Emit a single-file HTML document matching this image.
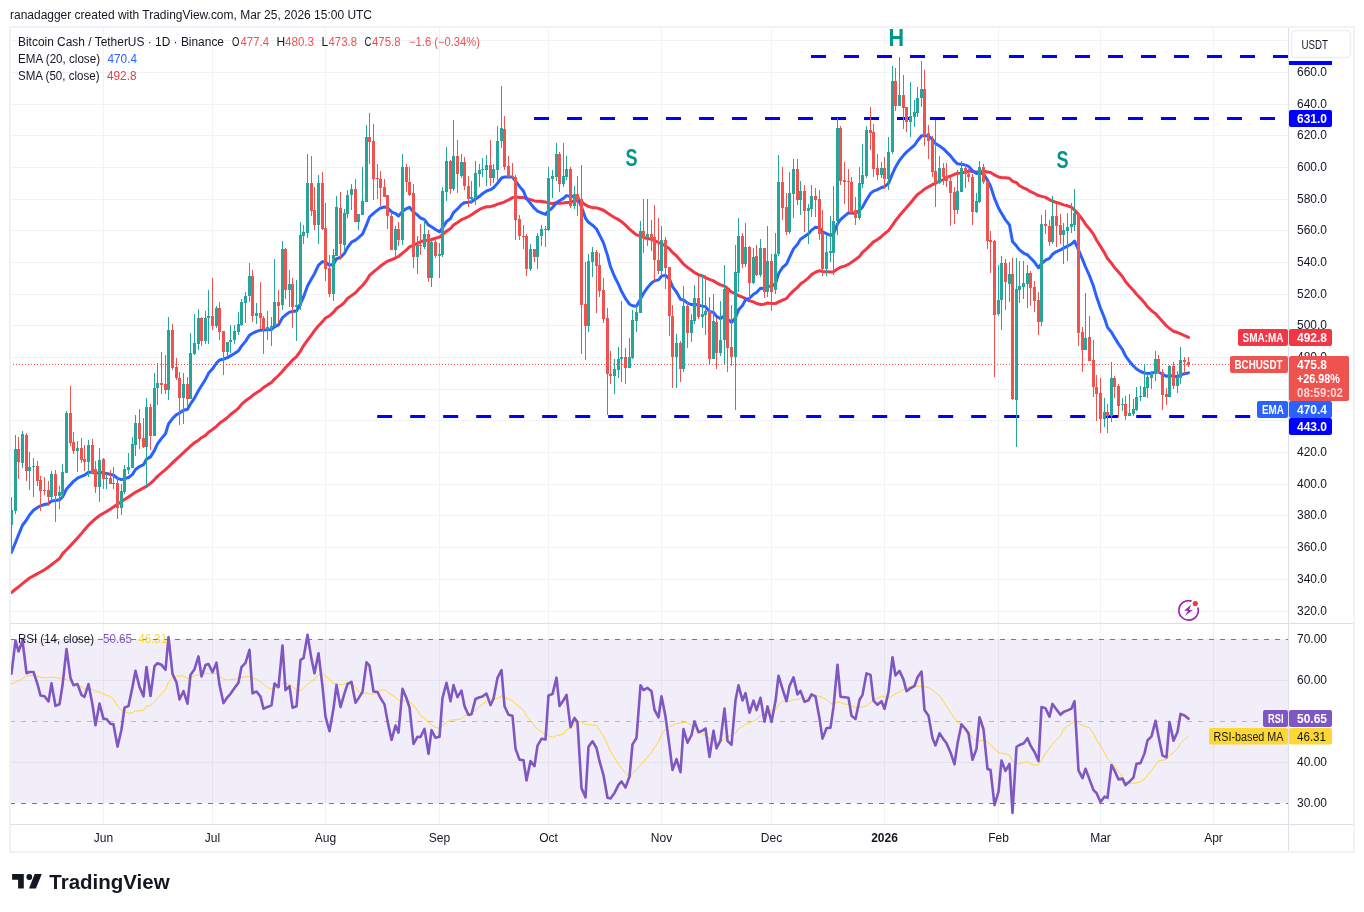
<!DOCTYPE html><html><head><meta charset="utf-8"><title>BCHUSDT</title><style>html,body{margin:0;padding:0;background:#fff}body{width:1364px;height:912px;position:relative;overflow:hidden;font-family:"Liberation Sans",sans-serif}</style></head><body><svg width="1364" height="912" viewBox="0 0 1364 912" style="position:absolute;left:0;top:0;will-change:transform">
<rect width="1364" height="912" fill="#fff"/>
<g fill="#f1f2f5" shape-rendering="crispEdges">
<rect x="103" y="28" width="1" height="595"/>
<rect x="212" y="28" width="1" height="595"/>
<rect x="325" y="28" width="1" height="595"/>
<rect x="439" y="28" width="1" height="595"/>
<rect x="548" y="28" width="1" height="595"/>
<rect x="661" y="28" width="1" height="595"/>
<rect x="771" y="28" width="1" height="595"/>
<rect x="884" y="28" width="1" height="595"/>
<rect x="998" y="28" width="1" height="595"/>
<rect x="1100" y="28" width="1" height="595"/>
<rect x="1213" y="28" width="1" height="595"/>
</g>
<g fill="#f1f2f5" shape-rendering="crispEdges">
<rect x="103" y="624" width="1" height="200"/>
<rect x="212" y="624" width="1" height="200"/>
<rect x="325" y="624" width="1" height="200"/>
<rect x="439" y="624" width="1" height="200"/>
<rect x="548" y="624" width="1" height="200"/>
<rect x="661" y="624" width="1" height="200"/>
<rect x="771" y="624" width="1" height="200"/>
<rect x="884" y="624" width="1" height="200"/>
<rect x="998" y="624" width="1" height="200"/>
<rect x="1100" y="624" width="1" height="200"/>
<rect x="1213" y="624" width="1" height="200"/>
</g>
<g fill="#f1f2f5" shape-rendering="crispEdges">
<rect x="11" y="611" width="1277" height="1"/>
<rect x="11" y="579" width="1277" height="1"/>
<rect x="11" y="547" width="1277" height="1"/>
<rect x="11" y="515" width="1277" height="1"/>
<rect x="11" y="484" width="1277" height="1"/>
<rect x="11" y="452" width="1277" height="1"/>
<rect x="11" y="420" width="1277" height="1"/>
<rect x="11" y="389" width="1277" height="1"/>
<rect x="11" y="357" width="1277" height="1"/>
<rect x="11" y="325" width="1277" height="1"/>
<rect x="11" y="294" width="1277" height="1"/>
<rect x="11" y="262" width="1277" height="1"/>
<rect x="11" y="230" width="1277" height="1"/>
<rect x="11" y="199" width="1277" height="1"/>
<rect x="11" y="167" width="1277" height="1"/>
<rect x="11" y="135" width="1277" height="1"/>
<rect x="11" y="104" width="1277" height="1"/>
<rect x="11" y="72" width="1277" height="1"/>
<rect x="11" y="40" width="1277" height="1"/>
</g>
<g fill="#f1f2f5" shape-rendering="crispEdges">
<rect x="11" y="762" width="1277" height="1"/>
<rect x="11" y="680" width="1277" height="1"/>
</g>
<rect x="11" y="639" width="1277" height="164" fill="rgba(126,87,194,0.1)"/>
<line x1="10" x2="1288" y1="639.5" y2="639.5" stroke="#787b86" stroke-width="1" stroke-dasharray="5 6" shape-rendering="crispEdges"/>
<line x1="10" x2="1288" y1="721.5" y2="721.5" stroke="#b6b8c0" stroke-width="1" stroke-dasharray="5 6" shape-rendering="crispEdges"/>
<line x1="10" x2="1288" y1="803.5" y2="803.5" stroke="#787b86" stroke-width="1" stroke-dasharray="5 6" shape-rendering="crispEdges"/>
<clipPath id="cp"><rect x="11" y="28" width="1277" height="595"/></clipPath>
<clipPath id="cr"><rect x="11" y="624" width="1277" height="200"/></clipPath>
<g fill="#0000ff" clip-path="url(#cp)">
<rect x="811.0" y="55.0" width="15.0" height="3"/><rect x="844.0" y="55.0" width="15.0" height="3"/><rect x="877.0" y="55.0" width="15.0" height="3"/><rect x="910.0" y="55.0" width="15.0" height="3"/><rect x="943.0" y="55.0" width="15.0" height="3"/><rect x="976.0" y="55.0" width="15.0" height="3"/><rect x="1009.0" y="55.0" width="15.0" height="3"/><rect x="1042.0" y="55.0" width="15.0" height="3"/><rect x="1075.0" y="55.0" width="15.0" height="3"/><rect x="1108.0" y="55.0" width="15.0" height="3"/><rect x="1141.0" y="55.0" width="15.0" height="3"/><rect x="1174.0" y="55.0" width="15.0" height="3"/><rect x="1207.0" y="55.0" width="15.0" height="3"/><rect x="1240.0" y="55.0" width="15.0" height="3"/><rect x="1273.0" y="55.0" width="15.0" height="3"/>
<rect x="534.0" y="117.0" width="15.0" height="3"/><rect x="567.0" y="117.0" width="15.0" height="3"/><rect x="600.0" y="117.0" width="15.0" height="3"/><rect x="633.0" y="117.0" width="15.0" height="3"/><rect x="666.0" y="117.0" width="15.0" height="3"/><rect x="699.0" y="117.0" width="15.0" height="3"/><rect x="732.0" y="117.0" width="15.0" height="3"/><rect x="765.0" y="117.0" width="15.0" height="3"/><rect x="798.0" y="117.0" width="15.0" height="3"/><rect x="831.0" y="117.0" width="15.0" height="3"/><rect x="864.0" y="117.0" width="15.0" height="3"/><rect x="897.0" y="117.0" width="15.0" height="3"/><rect x="930.0" y="117.0" width="15.0" height="3"/><rect x="963.0" y="117.0" width="15.0" height="3"/><rect x="996.0" y="117.0" width="15.0" height="3"/><rect x="1029.0" y="117.0" width="15.0" height="3"/><rect x="1062.0" y="117.0" width="15.0" height="3"/><rect x="1095.0" y="117.0" width="15.0" height="3"/><rect x="1128.0" y="117.0" width="15.0" height="3"/><rect x="1161.0" y="117.0" width="15.0" height="3"/><rect x="1194.0" y="117.0" width="15.0" height="3"/><rect x="1227.0" y="117.0" width="15.0" height="3"/><rect x="1260.0" y="117.0" width="15.0" height="3"/>
<rect x="377.2" y="415.0" width="15.0" height="3"/><rect x="410.2" y="415.0" width="15.0" height="3"/><rect x="443.2" y="415.0" width="15.0" height="3"/><rect x="476.2" y="415.0" width="15.0" height="3"/><rect x="509.2" y="415.0" width="15.0" height="3"/><rect x="542.2" y="415.0" width="15.0" height="3"/><rect x="575.2" y="415.0" width="15.0" height="3"/><rect x="608.2" y="415.0" width="15.0" height="3"/><rect x="641.2" y="415.0" width="15.0" height="3"/><rect x="674.2" y="415.0" width="15.0" height="3"/><rect x="707.2" y="415.0" width="15.0" height="3"/><rect x="740.2" y="415.0" width="15.0" height="3"/><rect x="773.2" y="415.0" width="15.0" height="3"/><rect x="806.2" y="415.0" width="15.0" height="3"/><rect x="839.2" y="415.0" width="15.0" height="3"/><rect x="872.2" y="415.0" width="15.0" height="3"/><rect x="905.2" y="415.0" width="15.0" height="3"/><rect x="938.2" y="415.0" width="15.0" height="3"/><rect x="971.2" y="415.0" width="15.0" height="3"/><rect x="1004.2" y="415.0" width="15.0" height="3"/><rect x="1037.2" y="415.0" width="15.0" height="3"/><rect x="1070.2" y="415.0" width="15.0" height="3"/><rect x="1103.2" y="415.0" width="15.0" height="3"/><rect x="1136.2" y="415.0" width="15.0" height="3"/><rect x="1169.2" y="415.0" width="15.0" height="3"/><rect x="1202.2" y="415.0" width="15.0" height="3"/><rect x="1235.2" y="415.0" width="15.0" height="3"/><rect x="1268.2" y="415.0" width="15.0" height="3"/>
</g>
<g fill="#ef5350" shape-rendering="crispEdges">
<path d="M10 364h1v1h-1zM13 364h1v1h-1zM16 364h1v1h-1zM19 364h1v1h-1zM22 364h1v1h-1zM25 364h1v1h-1zM28 364h1v1h-1zM31 364h1v1h-1zM34 364h1v1h-1zM37 364h1v1h-1zM40 364h1v1h-1zM43 364h1v1h-1zM46 364h1v1h-1zM49 364h1v1h-1zM52 364h1v1h-1zM55 364h1v1h-1zM58 364h1v1h-1zM61 364h1v1h-1zM64 364h1v1h-1zM67 364h1v1h-1zM70 364h1v1h-1zM73 364h1v1h-1zM76 364h1v1h-1zM79 364h1v1h-1zM82 364h1v1h-1zM85 364h1v1h-1zM88 364h1v1h-1zM91 364h1v1h-1zM94 364h1v1h-1zM97 364h1v1h-1zM100 364h1v1h-1zM103 364h1v1h-1zM106 364h1v1h-1zM109 364h1v1h-1zM112 364h1v1h-1zM115 364h1v1h-1zM118 364h1v1h-1zM121 364h1v1h-1zM124 364h1v1h-1zM127 364h1v1h-1zM130 364h1v1h-1zM133 364h1v1h-1zM136 364h1v1h-1zM139 364h1v1h-1zM142 364h1v1h-1zM145 364h1v1h-1zM148 364h1v1h-1zM151 364h1v1h-1zM154 364h1v1h-1zM157 364h1v1h-1zM160 364h1v1h-1zM163 364h1v1h-1zM166 364h1v1h-1zM169 364h1v1h-1zM172 364h1v1h-1zM175 364h1v1h-1zM178 364h1v1h-1zM181 364h1v1h-1zM184 364h1v1h-1zM187 364h1v1h-1zM190 364h1v1h-1zM193 364h1v1h-1zM196 364h1v1h-1zM199 364h1v1h-1zM202 364h1v1h-1zM205 364h1v1h-1zM208 364h1v1h-1zM211 364h1v1h-1zM214 364h1v1h-1zM217 364h1v1h-1zM220 364h1v1h-1zM223 364h1v1h-1zM226 364h1v1h-1zM229 364h1v1h-1zM232 364h1v1h-1zM235 364h1v1h-1zM238 364h1v1h-1zM241 364h1v1h-1zM244 364h1v1h-1zM247 364h1v1h-1zM250 364h1v1h-1zM253 364h1v1h-1zM256 364h1v1h-1zM259 364h1v1h-1zM262 364h1v1h-1zM265 364h1v1h-1zM268 364h1v1h-1zM271 364h1v1h-1zM274 364h1v1h-1zM277 364h1v1h-1zM280 364h1v1h-1zM283 364h1v1h-1zM286 364h1v1h-1zM289 364h1v1h-1zM292 364h1v1h-1zM295 364h1v1h-1zM298 364h1v1h-1zM301 364h1v1h-1zM304 364h1v1h-1zM307 364h1v1h-1zM310 364h1v1h-1zM313 364h1v1h-1zM316 364h1v1h-1zM319 364h1v1h-1zM322 364h1v1h-1zM325 364h1v1h-1zM328 364h1v1h-1zM331 364h1v1h-1zM334 364h1v1h-1zM337 364h1v1h-1zM340 364h1v1h-1zM343 364h1v1h-1zM346 364h1v1h-1zM349 364h1v1h-1zM352 364h1v1h-1zM355 364h1v1h-1zM358 364h1v1h-1zM361 364h1v1h-1zM364 364h1v1h-1zM367 364h1v1h-1zM370 364h1v1h-1zM373 364h1v1h-1zM376 364h1v1h-1zM379 364h1v1h-1zM382 364h1v1h-1zM385 364h1v1h-1zM388 364h1v1h-1zM391 364h1v1h-1zM394 364h1v1h-1zM397 364h1v1h-1zM400 364h1v1h-1zM403 364h1v1h-1zM406 364h1v1h-1zM409 364h1v1h-1zM412 364h1v1h-1zM415 364h1v1h-1zM418 364h1v1h-1zM421 364h1v1h-1zM424 364h1v1h-1zM427 364h1v1h-1zM430 364h1v1h-1zM433 364h1v1h-1zM436 364h1v1h-1zM439 364h1v1h-1zM442 364h1v1h-1zM445 364h1v1h-1zM448 364h1v1h-1zM451 364h1v1h-1zM454 364h1v1h-1zM457 364h1v1h-1zM460 364h1v1h-1zM463 364h1v1h-1zM466 364h1v1h-1zM469 364h1v1h-1zM472 364h1v1h-1zM475 364h1v1h-1zM478 364h1v1h-1zM481 364h1v1h-1zM484 364h1v1h-1zM487 364h1v1h-1zM490 364h1v1h-1zM493 364h1v1h-1zM496 364h1v1h-1zM499 364h1v1h-1zM502 364h1v1h-1zM505 364h1v1h-1zM508 364h1v1h-1zM511 364h1v1h-1zM514 364h1v1h-1zM517 364h1v1h-1zM520 364h1v1h-1zM523 364h1v1h-1zM526 364h1v1h-1zM529 364h1v1h-1zM532 364h1v1h-1zM535 364h1v1h-1zM538 364h1v1h-1zM541 364h1v1h-1zM544 364h1v1h-1zM547 364h1v1h-1zM550 364h1v1h-1zM553 364h1v1h-1zM556 364h1v1h-1zM559 364h1v1h-1zM562 364h1v1h-1zM565 364h1v1h-1zM568 364h1v1h-1zM571 364h1v1h-1zM574 364h1v1h-1zM577 364h1v1h-1zM580 364h1v1h-1zM583 364h1v1h-1zM586 364h1v1h-1zM589 364h1v1h-1zM592 364h1v1h-1zM595 364h1v1h-1zM598 364h1v1h-1zM601 364h1v1h-1zM604 364h1v1h-1zM607 364h1v1h-1zM610 364h1v1h-1zM613 364h1v1h-1zM616 364h1v1h-1zM619 364h1v1h-1zM622 364h1v1h-1zM625 364h1v1h-1zM628 364h1v1h-1zM631 364h1v1h-1zM634 364h1v1h-1zM637 364h1v1h-1zM640 364h1v1h-1zM643 364h1v1h-1zM646 364h1v1h-1zM649 364h1v1h-1zM652 364h1v1h-1zM655 364h1v1h-1zM658 364h1v1h-1zM661 364h1v1h-1zM664 364h1v1h-1zM667 364h1v1h-1zM670 364h1v1h-1zM673 364h1v1h-1zM676 364h1v1h-1zM679 364h1v1h-1zM682 364h1v1h-1zM685 364h1v1h-1zM688 364h1v1h-1zM691 364h1v1h-1zM694 364h1v1h-1zM697 364h1v1h-1zM700 364h1v1h-1zM703 364h1v1h-1zM706 364h1v1h-1zM709 364h1v1h-1zM712 364h1v1h-1zM715 364h1v1h-1zM718 364h1v1h-1zM721 364h1v1h-1zM724 364h1v1h-1zM727 364h1v1h-1zM730 364h1v1h-1zM733 364h1v1h-1zM736 364h1v1h-1zM739 364h1v1h-1zM742 364h1v1h-1zM745 364h1v1h-1zM748 364h1v1h-1zM751 364h1v1h-1zM754 364h1v1h-1zM757 364h1v1h-1zM760 364h1v1h-1zM763 364h1v1h-1zM766 364h1v1h-1zM769 364h1v1h-1zM772 364h1v1h-1zM775 364h1v1h-1zM778 364h1v1h-1zM781 364h1v1h-1zM784 364h1v1h-1zM787 364h1v1h-1zM790 364h1v1h-1zM793 364h1v1h-1zM796 364h1v1h-1zM799 364h1v1h-1zM802 364h1v1h-1zM805 364h1v1h-1zM808 364h1v1h-1zM811 364h1v1h-1zM814 364h1v1h-1zM817 364h1v1h-1zM820 364h1v1h-1zM823 364h1v1h-1zM826 364h1v1h-1zM829 364h1v1h-1zM832 364h1v1h-1zM835 364h1v1h-1zM838 364h1v1h-1zM841 364h1v1h-1zM844 364h1v1h-1zM847 364h1v1h-1zM850 364h1v1h-1zM853 364h1v1h-1zM856 364h1v1h-1zM859 364h1v1h-1zM862 364h1v1h-1zM865 364h1v1h-1zM868 364h1v1h-1zM871 364h1v1h-1zM874 364h1v1h-1zM877 364h1v1h-1zM880 364h1v1h-1zM883 364h1v1h-1zM886 364h1v1h-1zM889 364h1v1h-1zM892 364h1v1h-1zM895 364h1v1h-1zM898 364h1v1h-1zM901 364h1v1h-1zM904 364h1v1h-1zM907 364h1v1h-1zM910 364h1v1h-1zM913 364h1v1h-1zM916 364h1v1h-1zM919 364h1v1h-1zM922 364h1v1h-1zM925 364h1v1h-1zM928 364h1v1h-1zM931 364h1v1h-1zM934 364h1v1h-1zM937 364h1v1h-1zM940 364h1v1h-1zM943 364h1v1h-1zM946 364h1v1h-1zM949 364h1v1h-1zM952 364h1v1h-1zM955 364h1v1h-1zM958 364h1v1h-1zM961 364h1v1h-1zM964 364h1v1h-1zM967 364h1v1h-1zM970 364h1v1h-1zM973 364h1v1h-1zM976 364h1v1h-1zM979 364h1v1h-1zM982 364h1v1h-1zM985 364h1v1h-1zM988 364h1v1h-1zM991 364h1v1h-1zM994 364h1v1h-1zM997 364h1v1h-1zM1000 364h1v1h-1zM1003 364h1v1h-1zM1006 364h1v1h-1zM1009 364h1v1h-1zM1012 364h1v1h-1zM1015 364h1v1h-1zM1018 364h1v1h-1zM1021 364h1v1h-1zM1024 364h1v1h-1zM1027 364h1v1h-1zM1030 364h1v1h-1zM1033 364h1v1h-1zM1036 364h1v1h-1zM1039 364h1v1h-1zM1042 364h1v1h-1zM1045 364h1v1h-1zM1048 364h1v1h-1zM1051 364h1v1h-1zM1054 364h1v1h-1zM1057 364h1v1h-1zM1060 364h1v1h-1zM1063 364h1v1h-1zM1066 364h1v1h-1zM1069 364h1v1h-1zM1072 364h1v1h-1zM1075 364h1v1h-1zM1078 364h1v1h-1zM1081 364h1v1h-1zM1084 364h1v1h-1zM1087 364h1v1h-1zM1090 364h1v1h-1zM1093 364h1v1h-1zM1096 364h1v1h-1zM1099 364h1v1h-1zM1102 364h1v1h-1zM1105 364h1v1h-1zM1108 364h1v1h-1zM1111 364h1v1h-1zM1114 364h1v1h-1zM1117 364h1v1h-1zM1120 364h1v1h-1zM1123 364h1v1h-1zM1126 364h1v1h-1zM1129 364h1v1h-1zM1132 364h1v1h-1zM1135 364h1v1h-1zM1138 364h1v1h-1zM1141 364h1v1h-1zM1144 364h1v1h-1zM1147 364h1v1h-1zM1150 364h1v1h-1zM1153 364h1v1h-1zM1156 364h1v1h-1zM1159 364h1v1h-1zM1162 364h1v1h-1zM1165 364h1v1h-1zM1168 364h1v1h-1zM1171 364h1v1h-1zM1174 364h1v1h-1zM1177 364h1v1h-1zM1180 364h1v1h-1zM1183 364h1v1h-1zM1186 364h1v1h-1zM1189 364h1v1h-1zM1192 364h1v1h-1zM1195 364h1v1h-1zM1198 364h1v1h-1zM1201 364h1v1h-1zM1204 364h1v1h-1zM1207 364h1v1h-1zM1210 364h1v1h-1zM1213 364h1v1h-1zM1216 364h1v1h-1zM1219 364h1v1h-1zM1222 364h1v1h-1zM1225 364h1v1h-1zM1228 364h1v1h-1z"/>
</g>
<g clip-path="url(#cp)" fill="none" stroke-linejoin="round" stroke-linecap="round">
<path d="M10 592.8L11.5 592.46L15.5 589.23L18.5 586.82L22.5 583.6L26.5 580.37L29.5 578.04L33.5 575.85L37.5 573.65L40.5 572.01L44.5 569.82L48.5 567.06L51.5 564.74L55.5 561.63L59.5 558.53L62.5 553.87L66.5 549.74L70.5 545.61L73.5 542.36L77.5 537.98L81.5 533.38L84.5 529.77L88.5 525.16L92.5 521.47L95.5 518.71L99.5 515.57L103.5 513.26L106.5 511.53L110.5 508.98L113.5 506.96L117.5 504.27L121.5 501.61L124.5 499.62L128.5 496.96L132.5 494.26L135.5 492.28L139.5 490.11L143.5 487.94L146.5 486.32L150.5 483.35L154.5 479.55L157.5 476.37L161.5 472.88L165.5 469.7L168.5 466.79L172.5 462.91L176.5 459.07L179.5 456.31L183.5 452.63L187.5 448.96L190.5 446.08L194.5 442.75L198.5 440.13L201.5 437.7L205.5 435.38L208.5 432.3L212.5 429.47L216.5 426.31L219.5 423.33L223.5 420.55L227.5 417.57L230.5 414.42L234.5 411.58L238.5 408.14L241.5 404.34L245.5 400.81L249.5 398.08L252.5 395.54L256.5 392.79L260.5 390.2L263.5 387.59L267.5 384.89L271.5 382.52L274.5 379.11L278.5 375.49L282.5 371.27L285.5 367.5L289.5 363.63L292.5 360.09L296.5 356.51L300.5 351.05L303.5 345.87L307.5 340.15L311.5 335.02L314.5 330.63L318.5 325.82L322.5 321.62L325.5 318.06L329.5 315.79L333.5 312.19L336.5 308.56L340.5 305.77L344.5 302.33L347.5 298.44L351.5 295.62L355.5 292.69L358.5 289.43L362.5 285.49L366.5 280.55L369.5 275.4L373.5 271.92L377.5 268.64L380.5 266.03L384.5 263.16L387.5 261.13L391.5 259.79L395.5 257.86L398.5 256.5L402.5 253.21L406.5 249.82L409.5 246.87L413.5 245.21L417.5 243.48L420.5 241.91L424.5 240.54L428.5 240.18L431.5 239.5L435.5 238.31L439.5 237.12L442.5 234.58L446.5 231.21L450.5 228.44L453.5 225.04L457.5 222.48L461.5 219.61L464.5 218.35L468.5 216.51L471.5 214.77L475.5 212.1L479.5 209.4L482.5 208.07L486.5 206.73L490.5 206.63L493.5 205.8L497.5 204.12L501.5 203.03L504.5 201.79L508.5 199.96L512.5 197.65L515.5 196.94L519.5 197.53L523.5 197.39L526.5 198.51L530.5 199.58L534.5 200.94L537.5 201.22L541.5 201.51L545.5 202.1L548.5 202.92L552.5 203.61L556.5 203.11L559.5 203.2L563.5 202.96L566.5 202.4L570.5 202.18L574.5 201.07L577.5 200.48L581.5 201.78L585.5 204.95L588.5 206.53L592.5 207.67L596.5 207.85L599.5 208.77L603.5 210.23L607.5 213.02L610.5 214.97L614.5 217.52L618.5 219.58L621.5 221.64L625.5 225.18L629.5 229.11L632.5 231.73L636.5 234.85L640.5 235.98L643.5 237.5L647.5 238.46L651.5 239.26L654.5 240.52L658.5 242.48L661.5 243.88L665.5 245.86L669.5 248.88L672.5 252.48L676.5 255.96L680.5 260.52L683.5 264.08L687.5 267.4L691.5 270.25L694.5 272.65L698.5 274.59L702.5 276.16L705.5 277.63L709.5 279.43L713.5 280.87L716.5 282.8L720.5 284.88L724.5 286.08L727.5 288.43L731.5 292.02L735.5 293.93L738.5 295.57L742.5 297.17L745.5 298.59L749.5 300.86L753.5 301.88L756.5 303.49L760.5 304.46L764.5 304.21L767.5 302.91L771.5 303.53L775.5 303.57L778.5 301.91L782.5 300.25L786.5 298.5L789.5 294.88L793.5 290.75L797.5 287.38L800.5 284.01L804.5 281.09L808.5 277.88L811.5 274.65L815.5 272.25L819.5 270.68L822.5 271.44L826.5 271.71L830.5 272.06L833.5 271.7L837.5 269.05L840.5 267.24L844.5 266.08L848.5 264.38L851.5 262.31L855.5 259.52L859.5 256.32L862.5 252.44L866.5 248.92L870.5 244.92L873.5 241.9L877.5 239.44L881.5 236.47L884.5 233.76L888.5 230.58L892.5 225.03L895.5 220.73L899.5 215.57L903.5 210.92L906.5 207.58L910.5 202.94L914.5 198.05L917.5 194.57L921.5 191.63L924.5 189.03L928.5 186.91L932.5 184.68L935.5 183.2L939.5 181.07L943.5 179.65L946.5 177.43L950.5 176.06L954.5 174.42L957.5 173.16L961.5 172.88L965.5 172.2L968.5 171.12L972.5 171.5L976.5 172.14L979.5 171.48L983.5 171.3L987.5 171.9L990.5 172.58L994.5 174.96L998.5 176.97L1001.5 177.56L1005.5 177.83L1009.5 178.28L1012.5 181.23L1016.5 182.6L1019.5 185.76L1023.5 187.8L1027.5 189.62L1030.5 191.73L1034.5 193.48L1038.5 195.56L1041.5 196.38L1045.5 197.4L1049.5 199.63L1052.5 201.3L1056.5 202.44L1060.5 203.63L1063.5 204.87L1067.5 205.83L1071.5 207.28L1074.5 209.91L1078.5 214.45L1082.5 219.55L1085.5 224.14L1089.5 228.93L1093.5 234.35L1096.5 239.98L1100.5 246.39L1104.5 252.85L1107.5 258.48L1111.5 263.23L1114.5 267.53L1118.5 271.99L1122.5 276.71L1125.5 281.51L1129.5 286.15L1133.5 290.48L1136.5 294.23L1140.5 298.33L1144.5 302.71L1147.5 306.77L1151.5 310.67L1155.5 313.61L1158.5 317.04L1162.5 321.59L1166.5 325.89L1169.5 328.4L1173.5 331.28L1177.5 332.54L1180.5 333.73L1184.5 335.71L1188.5 337.36" stroke="#f23645" stroke-width="3"/>
<path d="M10 553.5L11.5 552.3L15.5 542.46L18.5 534.85L22.5 525.22L26.5 520.02L29.5 514.97L33.5 510.3L37.5 507.48L40.5 505.89L44.5 504.49L48.5 503.79L51.5 500.9L55.5 500.46L59.5 499.71L62.5 497.08L66.5 489.04L70.5 484.62L73.5 481.39L77.5 478.22L81.5 476.47L84.5 475.1L88.5 472.21L92.5 472.25L95.5 473.65L99.5 472.34L103.5 472.98L106.5 473.43L110.5 474.39L113.5 475.3L117.5 478.42L121.5 479.64L124.5 478.6L128.5 477.51L132.5 474.34L135.5 469.46L139.5 466.54L143.5 464.66L146.5 459.15L150.5 456.9L154.5 450.35L157.5 443.97L161.5 438.36L165.5 433.74L168.5 423.88L172.5 418.53L176.5 414.62L179.5 413.02L183.5 410.27L187.5 409.24L190.5 403.88L194.5 398.1L198.5 390.48L201.5 385.76L205.5 379.32L208.5 373.32L212.5 368.79L216.5 362.99L219.5 360.0L223.5 359.22L227.5 357.62L230.5 355.89L234.5 353.56L238.5 350.77L241.5 346.16L245.5 341.37L249.5 335.16L252.5 333.29L256.5 331.39L260.5 330.15L263.5 330.08L267.5 329.81L271.5 329.45L274.5 326.86L278.5 324.85L282.5 317.62L285.5 315.03L289.5 312.11L292.5 311.58L296.5 310.95L300.5 303.72L303.5 296.91L307.5 286.03L311.5 278.85L314.5 273.72L318.5 265.05L322.5 261.59L325.5 262.26L329.5 265.24L333.5 264.28L336.5 258.79L340.5 257.4L344.5 253.18L347.5 247.65L351.5 242.07L355.5 240.12L358.5 237.66L362.5 234.17L366.5 224.92L369.5 217.0L373.5 213.37L377.5 210.13L380.5 208.01L384.5 206.97L387.5 207.88L391.5 211.87L395.5 213.52L398.5 216.02L402.5 211.37L406.5 208.57L409.5 207.26L413.5 211.96L417.5 215.09L420.5 218.02L424.5 219.55L428.5 225.11L431.5 226.73L435.5 229.49L439.5 231.82L442.5 227.95L446.5 221.59L450.5 218.46L453.5 212.53L457.5 208.89L461.5 204.43L464.5 202.66L468.5 202.29L471.5 201.79L475.5 199.04L479.5 196.29L482.5 193.66L486.5 190.95L490.5 189.68L493.5 187.71L497.5 183.26L501.5 178.01L504.5 176.96L508.5 176.97L512.5 177.07L515.5 181.12L519.5 186.38L523.5 191.21L526.5 198.61L530.5 203.41L534.5 208.47L537.5 211.07L541.5 212.78L545.5 214.46L548.5 210.98L552.5 207.67L556.5 202.54L559.5 200.77L563.5 198.4L566.5 195.6L570.5 196.55L574.5 196.34L577.5 196.65L581.5 206.94L585.5 218.25L588.5 222.33L592.5 225.16L596.5 229.0L599.5 234.87L603.5 242.87L607.5 255.34L610.5 266.79L614.5 276.54L618.5 284.41L621.5 291.28L625.5 298.63L629.5 304.22L632.5 305.74L636.5 306.31L640.5 299.13L643.5 293.31L647.5 287.64L651.5 282.99L654.5 280.85L658.5 279.9L661.5 276.1L665.5 275.28L669.5 279.21L672.5 286.65L676.5 292.03L680.5 299.35L683.5 299.98L687.5 303.13L691.5 304.73L694.5 304.08L698.5 305.28L702.5 306.16L705.5 306.6L709.5 311.57L713.5 312.46L716.5 316.34L720.5 318.59L724.5 315.77L727.5 318.82L731.5 322.47L735.5 317.67L738.5 309.87L742.5 305.49L745.5 299.91L749.5 298.27L753.5 294.3L756.5 292.42L760.5 288.2L764.5 288.56L767.5 285.95L771.5 286.52L775.5 283.44L778.5 273.79L782.5 267.49L786.5 264.06L789.5 257.29L793.5 248.88L797.5 244.27L800.5 239.19L804.5 236.47L808.5 233.74L811.5 230.15L815.5 227.25L819.5 227.84L822.5 231.75L826.5 233.65L830.5 235.3L833.5 233.94L837.5 223.83L840.5 219.73L844.5 216.1L848.5 212.9L851.5 212.93L855.5 213.4L859.5 210.51L862.5 207.12L866.5 199.8L870.5 193.43L873.5 191.08L877.5 189.54L881.5 187.5L884.5 186.72L888.5 183.39L892.5 173.66L895.5 167.22L899.5 160.34L903.5 155.32L906.5 152.12L910.5 148.69L914.5 145.22L917.5 140.73L921.5 135.81L924.5 135.63L928.5 136.1L932.5 139.47L935.5 143.58L939.5 145.92L943.5 148.85L946.5 151.92L950.5 155.82L954.5 160.96L957.5 163.81L961.5 164.22L965.5 165.15L968.5 166.32L972.5 170.67L976.5 173.57L979.5 172.97L983.5 173.81L987.5 180.2L990.5 186.07L994.5 198.34L998.5 208.04L1001.5 213.27L1005.5 219.86L1009.5 225.01L1012.5 241.56L1016.5 246.1L1019.5 249.88L1023.5 253.03L1027.5 254.91L1030.5 258.04L1034.5 262.1L1038.5 267.81L1041.5 263.62L1045.5 260.05L1049.5 258.3L1052.5 254.29L1056.5 251.58L1060.5 249.97L1063.5 248.07L1067.5 246.09L1071.5 244.0L1074.5 241.04L1078.5 249.79L1082.5 259.31L1085.5 266.76L1089.5 275.74L1093.5 286.34L1096.5 296.56L1100.5 308.2L1104.5 318.08L1107.5 327.38L1111.5 332.2L1114.5 337.38L1118.5 343.87L1122.5 349.61L1125.5 355.98L1129.5 361.42L1133.5 365.99L1136.5 368.96L1140.5 371.52L1144.5 373.02L1147.5 373.38L1151.5 373.31L1155.5 371.96L1158.5 372.02L1162.5 374.2L1166.5 376.33L1169.5 375.38L1173.5 376.38L1177.5 376.5L1180.5 374.92L1184.5 373.7L1188.5 372.87" stroke="#2962ff" stroke-width="3"/>
</g>
<g clip-path="url(#cp)" shape-rendering="crispEdges"><path fill="#26a69a" d="M11 497h1v57h-1zM10 510h3v15h-3zM15 435h1v79h-1zM14 449h3v62h-3zM22 431h1v37h-1zM21 434h3v29h-3zM29 452h1v38h-1zM28 467h3v4h-3zM33 458h1v39h-1zM32 466h3v1h-3zM51 471h1v30h-1zM50 474h3v23h-3zM59 486h1v23h-1zM58 492h3v4h-3zM62 464h1v35h-1zM61 472h3v23h-3zM66 411h1v62h-1zM65 413h3v60h-3zM77 441h1v31h-1zM76 448h3v3h-3zM88 440h1v37h-1zM87 445h3v17h-3zM99 448h1v54h-1zM98 460h3v27h-3zM106 473h1v16h-1zM105 478h3v1h-3zM121 484h1v31h-1zM120 491h3v17h-3zM124 465h1v29h-1zM123 469h3v23h-3zM128 453h1v21h-1zM127 467h3v3h-3zM132 437h1v31h-1zM131 444h3v24h-3zM135 415h1v41h-1zM134 423h3v22h-3zM146 398h1v89h-1zM145 407h3v40h-3zM154 373h1v63h-1zM153 388h3v48h-3zM157 363h1v42h-1zM156 383h3v5h-3zM168 317h1v83h-1zM167 330h3v60h-3zM183 373h1v51h-1zM182 384h3v14h-3zM190 333h1v66h-1zM189 353h3v46h-3zM194 314h1v41h-1zM193 343h3v11h-3zM198 309h1v41h-1zM197 318h3v26h-3zM205 311h1v33h-1zM204 318h3v23h-3zM208 290h1v54h-1zM207 316h3v2h-3zM216 306h1v22h-1zM215 308h3v18h-3zM227 342h1v14h-1zM226 342h3v10h-3zM230 325h1v28h-1zM229 340h3v2h-3zM234 325h1v19h-1zM233 331h3v9h-3zM238 312h1v23h-1zM237 324h3v8h-3zM241 299h1v27h-1zM240 302h3v23h-3zM245 292h1v31h-1zM244 296h3v7h-3zM249 263h1v39h-1zM248 276h3v20h-3zM256 303h1v21h-1zM255 313h3v3h-3zM267 311h1v29h-1zM266 327h3v3h-3zM271 317h1v29h-1zM270 326h3v2h-3zM274 259h1v67h-1zM273 302h3v24h-3zM282 241h1v69h-1zM281 249h3v56h-3zM289 270h1v37h-1zM288 284h3v6h-3zM296 280h1v61h-1zM295 305h3v2h-3zM300 222h1v88h-1zM299 235h3v71h-3zM303 225h1v19h-1zM302 232h3v4h-3zM307 154h1v84h-1zM306 183h3v50h-3zM318 175h1v69h-1zM317 183h3v42h-3zM333 249h1v52h-1zM332 255h3v39h-3zM336 196h1v60h-1zM335 207h3v49h-3zM344 209h1v43h-1zM343 213h3v32h-3zM347 190h1v28h-1zM346 195h3v19h-3zM351 184h1v26h-1zM350 189h3v6h-3zM358 214h1v16h-1zM357 214h3v8h-3zM362 167h1v48h-1zM361 201h3v14h-3zM366 125h1v77h-1zM365 137h3v65h-3zM395 226h1v31h-1zM394 229h3v21h-3zM402 154h1v91h-1zM401 167h3v73h-3zM417 236h1v38h-1zM416 245h3v12h-3zM424 219h1v30h-1zM423 234h3v13h-3zM431 239h1v48h-1zM430 242h3v36h-3zM439 243h1v35h-1zM438 254h3v2h-3zM442 187h1v70h-1zM441 191h3v64h-3zM446 147h1v54h-1zM445 161h3v31h-3zM453 120h1v71h-1zM452 156h3v33h-3zM461 154h1v24h-1zM460 162h3v14h-3zM471 181h1v23h-1zM470 197h3v2h-3zM475 161h1v44h-1zM474 173h3v25h-3zM479 164h1v23h-1zM478 170h3v4h-3zM482 158h1v19h-1zM481 169h3v1h-3zM486 155h1v31h-1zM485 165h3v5h-3zM493 164h1v19h-1zM492 169h3v9h-3zM497 126h1v54h-1zM496 141h3v29h-3zM501 86h1v62h-1zM500 128h3v13h-3zM530 244h1v27h-1zM529 249h3v20h-3zM537 233h1v36h-1zM536 236h3v21h-3zM541 225h1v21h-1zM540 229h3v7h-3zM548 167h1v64h-1zM547 178h3v52h-3zM552 170h1v28h-1zM551 176h3v3h-3zM556 143h1v38h-1zM555 154h3v23h-3zM563 143h1v44h-1zM562 176h3v8h-3zM566 156h1v24h-1zM565 169h3v8h-3zM574 186h1v23h-1zM573 194h3v12h-3zM588 254h1v78h-1zM587 261h3v65h-3zM592 247h1v30h-1zM591 252h3v10h-3zM614 359h1v35h-1zM613 369h3v7h-3zM618 347h1v31h-1zM617 359h3v11h-3zM621 301h1v81h-1zM620 357h3v2h-3zM629 338h1v30h-1zM628 357h3v11h-3zM632 310h1v49h-1zM631 320h3v38h-3zM636 305h1v27h-1zM635 312h3v9h-3zM640 221h1v92h-1zM639 231h3v82h-3zM647 199h1v47h-1zM646 234h3v4h-3zM661 226h1v49h-1zM660 240h3v31h-3zM676 334h1v54h-1zM675 343h3v14h-3zM683 286h1v86h-1zM682 306h3v63h-3zM691 314h1v28h-1zM690 320h3v13h-3zM694 285h1v39h-1zM693 298h3v23h-3zM702 274h1v54h-1zM701 314h3v3h-3zM705 275h1v60h-1zM704 311h3v4h-3zM713 294h1v65h-1zM712 321h3v38h-3zM720 301h1v55h-1zM719 340h3v13h-3zM724 265h1v99h-1zM723 289h3v51h-3zM735 245h1v165h-1zM734 272h3v85h-3zM738 218h1v74h-1zM737 236h3v37h-3zM745 223h1v44h-1zM744 247h3v17h-3zM753 248h1v36h-1zM752 257h3v26h-3zM760 239h1v38h-1zM759 248h3v27h-3zM767 226h1v71h-1zM766 261h3v31h-3zM775 233h1v61h-1zM774 254h3v36h-3zM778 155h1v101h-1zM777 182h3v72h-3zM789 172h1v62h-1zM788 193h3v39h-3zM793 159h1v59h-1zM792 169h3v25h-3zM800 181h1v34h-1zM799 191h3v9h-3zM808 204h1v40h-1zM807 208h3v3h-3zM811 185h1v32h-1zM810 196h3v13h-3zM826 235h1v41h-1zM825 252h3v17h-3zM830 216h1v46h-1zM829 251h3v2h-3zM833 186h1v89h-1zM832 221h3v32h-3zM837 118h1v117h-1zM836 128h3v93h-3zM859 167h1v53h-1zM858 183h3v35h-3zM862 144h1v44h-1zM861 175h3v9h-3zM866 126h1v52h-1zM865 130h3v46h-3zM881 162h1v16h-1zM880 168h3v7h-3zM888 137h1v53h-1zM887 152h3v27h-3zM892 66h1v88h-1zM891 81h3v71h-3zM899 57h1v49h-1zM898 95h3v11h-3zM910 82h1v55h-1zM909 116h3v6h-3zM914 100h1v27h-1zM913 112h3v5h-3zM917 87h1v30h-1zM916 98h3v15h-3zM921 61h1v46h-1zM920 89h3v9h-3zM939 156h1v28h-1zM938 168h3v15h-3zM957 170h1v44h-1zM956 191h3v19h-3zM961 161h1v31h-1zM960 168h3v24h-3zM976 193h1v20h-1zM975 201h3v11h-3zM979 161h1v42h-1zM978 167h3v35h-3zM998 265h1v51h-1zM997 300h3v14h-3zM1001 256h1v74h-1zM1000 263h3v37h-3zM1009 262h1v40h-1zM1008 274h3v10h-3zM1016 258h1v189h-1zM1015 289h3v111h-3zM1019 261h1v42h-1zM1018 286h3v4h-3zM1023 261h1v38h-1zM1022 283h3v4h-3zM1027 265h1v43h-1zM1026 273h3v11h-3zM1041 215h1v111h-1zM1040 224h3v98h-3zM1052 196h1v48h-1zM1051 216h3v26h-3zM1063 223h1v41h-1zM1062 230h3v5h-3zM1067 213h1v48h-1zM1066 227h3v4h-3zM1071 203h1v30h-1zM1070 224h3v3h-3zM1074 189h1v42h-1zM1073 213h3v12h-3zM1085 293h1v57h-1zM1084 338h3v12h-3zM1104 398h1v29h-1zM1103 412h3v7h-3zM1111 362h1v60h-1zM1110 378h3v38h-3zM1122 398h1v13h-1zM1121 404h3v1h-3zM1129 394h1v22h-1zM1128 413h3v3h-3zM1133 399h1v17h-1zM1132 409h3v5h-3zM1136 387h1v24h-1zM1135 397h3v13h-3zM1140 386h1v15h-1zM1139 396h3v1h-3zM1144 364h1v33h-1zM1143 387h3v10h-3zM1147 374h1v24h-1zM1146 377h3v11h-3zM1151 371h1v18h-1zM1150 373h3v5h-3zM1155 351h1v30h-1zM1154 359h3v15h-3zM1169 365h1v32h-1zM1168 366h3v31h-3zM1177 371h1v22h-1zM1176 378h3v8h-3zM1180 347h1v37h-1zM1179 360h3v18h-3z"/><path fill="#ef5350" d="M18 437h1v42h-1zM17 449h3v13h-3zM26 433h1v48h-1zM25 435h3v36h-3zM37 461h1v25h-1zM36 466h3v15h-3zM40 476h1v35h-1zM39 480h3v11h-3zM44 477h1v18h-1zM43 490h3v1h-3zM48 481h1v25h-1zM47 490h3v7h-3zM55 470h1v52h-1zM54 474h3v22h-3zM70 386h1v60h-1zM69 413h3v30h-3zM73 432h1v22h-1zM72 442h3v9h-3zM81 438h1v25h-1zM80 448h3v12h-3zM84 445h1v26h-1zM83 459h3v3h-3zM92 439h1v34h-1zM91 445h3v28h-3zM95 461h1v32h-1zM94 469h3v18h-3zM103 458h1v31h-1zM102 459h3v20h-3zM110 470h1v14h-1zM109 478h3v6h-3zM113 467h1v22h-1zM112 483h3v1h-3zM117 476h1v43h-1zM116 483h3v25h-3zM139 409h1v40h-1zM138 423h3v16h-3zM143 418h1v30h-1zM142 438h3v9h-3zM150 404h1v46h-1zM149 407h3v29h-3zM161 352h1v42h-1zM160 383h3v2h-3zM165 355h1v39h-1zM164 384h3v6h-3zM172 324h1v46h-1zM171 330h3v38h-3zM176 358h1v22h-1zM175 367h3v11h-3zM179 372h1v53h-1zM178 378h3v20h-3zM187 377h1v29h-1zM186 384h3v15h-3zM201 317h1v29h-1zM200 318h3v23h-3zM212 278h1v52h-1zM211 316h3v10h-3zM219 302h1v38h-1zM218 308h3v24h-3zM223 331h1v44h-1zM222 331h3v21h-3zM252 270h1v52h-1zM251 276h3v40h-3zM260 282h1v47h-1zM259 313h3v5h-3zM263 316h1v38h-1zM262 318h3v11h-3zM278 290h1v33h-1zM277 302h3v4h-3zM285 248h1v51h-1zM284 249h3v41h-3zM292 278h1v50h-1zM291 284h3v23h-3zM311 156h1v60h-1zM310 183h3v28h-3zM314 187h1v43h-1zM313 210h3v15h-3zM322 172h1v58h-1zM321 183h3v46h-3zM325 203h1v78h-1zM324 228h3v41h-3zM329 255h1v42h-1zM328 268h3v26h-3zM340 192h1v68h-1zM339 208h3v36h-3zM355 179h1v43h-1zM354 189h3v33h-3zM369 113h1v51h-1zM368 137h3v5h-3zM373 124h1v76h-1zM372 141h3v38h-3zM377 164h1v35h-1zM376 178h3v1h-3zM380 171h1v35h-1zM379 179h3v9h-3zM384 179h1v18h-1zM383 187h3v10h-3zM387 195h1v34h-1zM386 195h3v21h-3zM391 212h1v38h-1zM390 216h3v34h-3zM398 222h1v24h-1zM397 229h3v11h-3zM406 164h1v28h-1zM405 167h3v15h-3zM409 167h1v29h-1zM408 182h3v13h-3zM413 184h1v84h-1zM412 193h3v64h-3zM420 224h1v31h-1zM419 245h3v1h-3zM428 230h1v52h-1zM427 234h3v44h-3zM435 238h1v20h-1zM434 242h3v14h-3zM450 160h1v34h-1zM449 161h3v28h-3zM457 140h1v53h-1zM456 156h3v18h-3zM464 157h1v33h-1zM463 162h3v24h-3zM468 176h1v31h-1zM467 186h3v13h-3zM490 140h1v46h-1zM489 165h3v13h-3zM504 116h1v54h-1zM503 129h3v38h-3zM508 156h1v21h-1zM507 166h3v11h-3zM512 163h1v15h-1zM511 177h3v1h-3zM515 175h1v65h-1zM514 177h3v43h-3zM519 215h1v25h-1zM518 219h3v17h-3zM523 225h1v24h-1zM522 236h3v1h-3zM526 234h1v42h-1zM525 236h3v33h-3zM534 249h1v13h-1zM533 249h3v8h-3zM545 226h1v21h-1zM544 229h3v1h-3zM559 152h1v40h-1zM558 154h3v30h-3zM570 167h1v41h-1zM569 169h3v37h-3zM577 176h1v40h-1zM576 194h3v6h-3zM581 165h1v189h-1zM580 199h3v106h-3zM585 262h1v98h-1zM584 304h3v22h-3zM596 250h1v63h-1zM595 252h3v14h-3zM599 253h1v44h-1zM598 265h3v26h-3zM603 278h1v45h-1zM602 290h3v29h-3zM607 308h1v107h-1zM606 318h3v56h-3zM610 351h1v33h-1zM609 374h3v2h-3zM625 348h1v36h-1zM624 357h3v11h-3zM643 199h1v54h-1zM642 231h3v7h-3zM651 220h1v31h-1zM650 234h3v5h-3zM654 205h1v76h-1zM653 237h3v23h-3zM658 218h1v56h-1zM657 260h3v11h-3zM665 237h1v52h-1zM664 240h3v28h-3zM669 267h1v69h-1zM668 267h3v49h-3zM672 305h1v83h-1zM671 316h3v41h-3zM680 341h1v41h-1zM679 343h3v26h-3zM687 301h1v47h-1zM686 306h3v27h-3zM698 276h1v43h-1zM697 298h3v19h-3zM709 297h1v68h-1zM708 311h3v48h-3zM716 318h1v51h-1zM715 322h3v31h-3zM727 289h1v83h-1zM726 289h3v59h-3zM731 305h1v61h-1zM730 347h3v10h-3zM742 233h1v35h-1zM741 236h3v28h-3zM749 246h1v53h-1zM748 247h3v36h-3zM756 245h1v31h-1zM755 256h3v19h-3zM764 248h1v50h-1zM763 248h3v44h-3zM771 254h1v57h-1zM770 261h3v31h-3zM782 167h1v53h-1zM781 182h3v26h-3zM786 193h1v42h-1zM785 207h3v25h-3zM797 159h1v46h-1zM796 169h3v31h-3zM804 185h1v47h-1zM803 191h3v20h-3zM815 188h1v29h-1zM814 196h3v4h-3zM819 190h1v50h-1zM818 199h3v35h-3zM822 210h1v66h-1zM821 233h3v36h-3zM840 126h1v59h-1zM839 128h3v53h-3zM844 162h1v42h-1zM843 180h3v2h-3zM848 169h1v43h-1zM847 181h3v1h-3zM851 177h1v36h-1zM850 182h3v31h-3zM855 197h1v28h-1zM854 210h3v8h-3zM870 107h1v43h-1zM869 130h3v3h-3zM873 124h1v53h-1zM872 132h3v37h-3zM877 154h1v26h-1zM876 168h3v7h-3zM884 157h1v32h-1zM883 168h3v11h-3zM895 68h1v43h-1zM894 81h3v25h-3zM903 75h1v54h-1zM902 95h3v13h-3zM906 107h1v25h-1zM905 107h3v15h-3zM924 70h1v76h-1zM923 89h3v45h-3zM928 125h1v34h-1zM927 133h3v8h-3zM932 136h1v41h-1zM931 140h3v32h-3zM935 120h1v87h-1zM934 171h3v12h-3zM943 163h1v22h-1zM942 168h3v9h-3zM946 163h1v24h-1zM945 176h3v5h-3zM950 177h1v49h-1zM949 181h3v12h-3zM954 187h1v37h-1zM953 192h3v18h-3zM965 165h1v23h-1zM964 168h3v6h-3zM968 169h1v13h-1zM967 174h3v3h-3zM972 174h1v51h-1zM971 177h3v35h-3zM983 164h1v20h-1zM982 167h3v15h-3zM987 181h1v68h-1zM986 181h3v60h-3zM990 231h1v42h-1zM989 240h3v2h-3zM994 240h1v137h-1zM993 241h3v74h-3zM1005 259h1v51h-1zM1004 263h3v19h-3zM1012 258h1v142h-1zM1011 274h3v125h-3zM1030 271h1v35h-1zM1029 273h3v15h-3zM1034 281h1v31h-1zM1033 287h3v14h-3zM1038 292h1v43h-1zM1037 300h3v22h-3zM1045 210h1v24h-1zM1044 224h3v2h-3zM1049 220h1v26h-1zM1048 226h3v16h-3zM1056 204h1v43h-1zM1055 216h3v10h-3zM1060 214h1v30h-1zM1059 225h3v10h-3zM1078 212h1v134h-1zM1077 213h3v120h-3zM1082 327h1v45h-1zM1081 332h3v18h-3zM1089 316h1v45h-1zM1088 337h3v24h-3zM1093 340h1v57h-1zM1092 360h3v27h-3zM1096 375h1v46h-1zM1095 387h3v7h-3zM1100 378h1v55h-1zM1099 393h3v26h-3zM1107 404h1v29h-1zM1106 412h3v4h-3zM1114 376h1v22h-1zM1113 378h3v9h-3zM1118 384h1v33h-1zM1117 386h3v20h-3zM1125 396h1v24h-1zM1124 404h3v12h-3zM1158 355h1v18h-1zM1157 359h3v14h-3zM1162 369h1v41h-1zM1161 372h3v23h-3zM1166 388h1v17h-1zM1165 394h3v3h-3zM1173 362h1v27h-1zM1172 366h3v20h-3zM1184 357h1v17h-1zM1183 360h3v2h-3zM1188 357h1v10h-1zM1187 362h3v3h-3z"/></g>
<g clip-path="url(#cr)" fill="none" stroke-linejoin="round" stroke-linecap="round">
<path d="M11.5 683.84L15.5 682.12L18.5 680.77L22.5 678.46L26.5 676.16L29.5 675.74L33.5 675.25L37.5 676.28L40.5 677.17L44.5 677.99L48.5 677.49L51.5 677.11L55.5 677.47L59.5 678.17L62.5 679.0L66.5 679.6L70.5 681.5L73.5 684.69L77.5 685.47L81.5 687.11L84.5 688.89L88.5 688.89L92.5 689.55L95.5 691.63L99.5 691.77L103.5 694.31L106.5 695.24L110.5 696.64L113.5 699.43L117.5 706.4L121.5 710.07L124.5 711.67L128.5 713.24L132.5 712.65L135.5 710.79L139.5 710.99L143.5 710.39L146.5 706.23L150.5 705.69L154.5 701.92L157.5 697.94L161.5 693.73L165.5 689.83L168.5 682.0L172.5 678.03L176.5 676.22L179.5 675.76L183.5 676.06L187.5 678.41L190.5 677.55L194.5 675.62L198.5 674.86L201.5 673.47L205.5 673.39L208.5 673.44L212.5 673.97L216.5 673.46L219.5 676.89L223.5 678.98L227.5 680.03L230.5 679.62L234.5 679.4L238.5 677.89L241.5 677.33L245.5 676.87L249.5 676.4L252.5 677.6L256.5 679.49L260.5 681.82L263.5 684.43L267.5 687.6L271.5 689.05L274.5 687.64L278.5 686.94L282.5 683.49L285.5 683.65L289.5 683.9L292.5 686.79L296.5 689.9L300.5 690.62L303.5 688.12L307.5 684.06L311.5 681.38L314.5 678.85L318.5 675.01L322.5 673.67L325.5 676.04L329.5 679.19L333.5 683.69L336.5 683.32L340.5 684.83L344.5 683.81L347.5 682.22L351.5 683.79L355.5 686.97L358.5 691.52L362.5 693.86L366.5 693.07L369.5 693.96L373.5 694.31L377.5 692.55L380.5 690.18L384.5 689.88L387.5 692.44L391.5 694.79L395.5 697.1L398.5 700.56L402.5 701.06L406.5 700.74L409.5 701.39L413.5 705.11L417.5 710.43L420.5 715.52L424.5 718.19L428.5 722.61L431.5 724.9L435.5 727.29L439.5 728.43L442.5 725.42L446.5 722.36L450.5 720.13L453.5 719.86L457.5 719.78L461.5 718.58L464.5 715.89L468.5 714.32L471.5 712.7L475.5 710.56L479.5 706.51L482.5 704.11L486.5 700.95L490.5 698.69L493.5 698.75L497.5 698.4L501.5 696.16L504.5 697.67L508.5 698.93L512.5 700.72L515.5 703.75L519.5 706.94L523.5 710.23L526.5 716.06L530.5 720.62L534.5 725.6L537.5 729.31L541.5 731.71L545.5 734.63L548.5 735.89L552.5 737.6L556.5 735.56L559.5 734.94L563.5 733.83L566.5 730.0L570.5 727.68L574.5 724.65L577.5 720.5L581.5 722.42L585.5 724.66L588.5 724.74L592.5 724.92L596.5 725.52L599.5 730.21L603.5 736.0L607.5 744.58L610.5 751.19L614.5 757.81L618.5 764.23L621.5 768.11L625.5 773.09L629.5 776.96L632.5 773.84L636.5 769.6L640.5 765.21L643.5 761.56L647.5 757.27L651.5 752.27L654.5 747.6L658.5 741.86L661.5 734.56L665.5 729.1L669.5 726.34L672.5 725.53L676.5 723.5L680.5 723.19L683.5 722.1L687.5 722.43L691.5 725.98L694.5 728.21L698.5 731.37L702.5 734.18L705.5 735.51L709.5 738.34L713.5 740.8L716.5 743.07L720.5 742.65L724.5 738.25L727.5 736.94L731.5 734.98L735.5 732.94L738.5 728.84L742.5 726.37L745.5 724.36L749.5 722.98L753.5 720.84L756.5 719.53L760.5 715.32L764.5 714.67L767.5 711.67L771.5 710.36L775.5 709.83L778.5 705.18L782.5 701.18L786.5 701.24L789.5 701.29L793.5 699.64L797.5 699.73L800.5 698.16L804.5 698.25L808.5 697.54L811.5 697.29L815.5 695.49L819.5 696.35L822.5 697.54L826.5 699.48L830.5 703.18L833.5 704.48L837.5 701.87L840.5 702.63L844.5 704.05L848.5 704.29L851.5 706.07L855.5 707.3L859.5 707.27L862.5 707.3L866.5 705.65L870.5 702.54L873.5 699.82L877.5 698.15L881.5 696.26L884.5 696.4L888.5 698.35L892.5 695.53L895.5 693.97L899.5 692.05L903.5 689.47L906.5 687.49L910.5 686.64L914.5 686.01L917.5 686.29L921.5 686.06L924.5 686.75L928.5 687.53L932.5 690.18L935.5 692.79L939.5 695.75L943.5 701.6L946.5 706.43L950.5 712.26L954.5 718.31L957.5 722.04L961.5 724.62L965.5 727.69L968.5 731.71L972.5 738.0L976.5 740.77L979.5 740.88L983.5 740.23L987.5 741.93L990.5 744.53L994.5 749.24L998.5 752.7L1001.5 753.28L1005.5 753.76L1009.5 755.21L1012.5 761.54L1016.5 762.82L1019.5 763.64L1023.5 762.49L1027.5 761.73L1030.5 763.75L1034.5 765.38L1038.5 764.8L1041.5 760.32L1045.5 753.4L1049.5 748.04L1052.5 744.0L1056.5 739.61L1060.5 736.1L1063.5 728.9L1067.5 726.28L1071.5 723.68L1074.5 720.66L1078.5 722.96L1082.5 725.28L1085.5 726.48L1089.5 727.79L1093.5 733.72L1096.5 739.78L1100.5 745.88L1104.5 752.51L1107.5 758.81L1111.5 762.4L1114.5 766.58L1118.5 771.51L1122.5 776.51L1125.5 782.5L1129.5 783.3L1133.5 783.24L1136.5 782.88L1140.5 781.72L1144.5 779.09L1147.5 775.34L1151.5 770.66L1155.5 765.23L1158.5 760.83L1162.5 760.16L1166.5 759.2L1169.5 755.11L1173.5 752.4L1177.5 748.61L1180.5 743.78L1184.5 739.36L1188.5 736.14" stroke="#fdd835" stroke-width="1"/>
<path d="M11.5 673.7L15.5 640.6L18.5 651.5L22.5 640.6L26.5 673.2L29.5 672.0L33.5 672.0L37.5 684.1L40.5 695.5L44.5 696.2L48.5 701.5L51.5 683.4L55.5 705.9L59.5 704.2L62.5 685.3L66.5 649.0L70.5 678.1L73.5 685.3L77.5 684.1L81.5 695.0L84.5 696.9L88.5 684.1L92.5 704.7L95.5 725.3L99.5 703.5L103.5 718.91L106.5 718.96L110.5 723.81L113.5 724.4L117.5 746.58L121.5 729.48L124.5 707.63L128.5 706.02L132.5 686.87L135.5 670.79L139.5 686.91L143.5 696.32L146.5 666.97L150.5 695.98L154.5 666.19L157.5 663.27L161.5 664.81L165.5 669.77L168.5 636.99L172.5 673.85L176.5 682.4L179.5 699.47L183.5 691.14L187.5 703.69L190.5 674.92L194.5 669.23L198.5 656.38L201.5 676.45L205.5 665.07L208.5 664.01L212.5 672.16L216.5 662.66L219.5 685.07L223.5 703.1L227.5 697.03L230.5 693.82L234.5 687.95L238.5 682.6L241.5 667.09L245.5 662.81L249.5 649.76L252.5 693.3L256.5 691.51L260.5 696.6L263.5 708.79L267.5 706.94L271.5 705.34L274.5 683.49L278.5 687.21L282.5 645.49L285.5 690.14L289.5 686.08L292.5 707.64L296.5 706.34L300.5 659.86L303.5 658.23L307.5 634.71L311.5 659.1L314.5 673.32L318.5 653.2L322.5 686.58L325.5 716.67L329.5 731.24L333.5 708.59L336.5 684.97L340.5 707.11L344.5 693.36L347.5 684.12L351.5 681.89L355.5 702.73L358.5 698.37L362.5 691.85L366.5 662.34L369.5 665.62L373.5 691.51L377.5 692.03L380.5 698.0L384.5 704.39L387.5 720.89L391.5 740.03L395.5 725.61L398.5 732.65L402.5 688.8L406.5 698.25L409.5 707.48L413.5 743.88L417.5 736.84L420.5 736.96L424.5 728.89L428.5 753.87L431.5 730.1L435.5 737.84L439.5 736.8L442.5 697.85L446.5 682.84L450.5 701.35L453.5 685.12L457.5 697.15L461.5 690.65L464.5 706.14L468.5 714.96L471.5 714.17L475.5 698.95L479.5 697.23L482.5 696.43L486.5 693.67L490.5 705.12L493.5 698.75L497.5 677.89L501.5 670.04L504.5 706.2L508.5 714.78L512.5 715.76L515.5 748.59L519.5 759.62L523.5 760.24L526.5 780.5L530.5 761.14L534.5 766.09L537.5 745.59L541.5 738.79L545.5 739.57L548.5 695.51L552.5 694.08L556.5 677.65L559.5 705.97L563.5 700.26L566.5 694.97L570.5 727.17L574.5 717.86L577.5 722.3L581.5 788.12L585.5 797.37L588.5 746.7L592.5 741.29L596.5 747.97L599.5 761.2L603.5 775.22L607.5 797.75L610.5 798.48L614.5 792.95L618.5 784.9L621.5 781.37L625.5 787.58L629.5 776.56L632.5 744.35L636.5 738.01L640.5 685.3L643.5 690.13L647.5 687.94L651.5 691.24L654.5 709.87L658.5 717.28L661.5 696.3L665.5 716.61L669.5 746.2L672.5 770.06L676.5 759.16L680.5 772.24L683.5 728.99L687.5 742.75L691.5 734.98L694.5 721.34L698.5 732.18L702.5 730.61L705.5 728.47L709.5 756.84L713.5 730.77L716.5 748.36L720.5 740.3L724.5 708.54L727.5 740.8L731.5 744.86L735.5 700.37L738.5 685.34L742.5 700.47L745.5 693.21L749.5 712.74L753.5 700.68L756.5 710.17L760.5 697.85L764.5 721.7L767.5 706.41L771.5 721.94L775.5 701.09L778.5 675.71L782.5 688.82L786.5 701.27L789.5 686.02L793.5 677.34L797.5 694.42L800.5 690.88L804.5 701.83L808.5 700.29L811.5 694.4L815.5 696.46L819.5 718.41L822.5 738.6L826.5 728.22L830.5 727.62L833.5 706.9L837.5 664.71L840.5 696.71L844.5 697.28L848.5 697.8L851.5 715.71L855.5 719.03L859.5 699.94L862.5 694.83L866.5 673.38L870.5 674.87L873.5 700.52L877.5 704.75L881.5 701.19L884.5 708.88L888.5 691.96L892.5 657.23L895.5 675.49L899.5 670.89L903.5 679.64L906.5 691.23L910.5 688.13L914.5 686.01L917.5 677.32L921.5 671.59L924.5 710.12L928.5 715.74L932.5 738.34L935.5 745.38L939.5 733.34L943.5 739.16L946.5 743.19L950.5 752.45L954.5 764.28L957.5 743.52L961.5 724.3L965.5 729.0L968.5 733.48L972.5 759.7L976.5 748.92L979.5 717.19L983.5 729.28L987.5 769.14L990.5 769.75L994.5 805.09L998.5 791.75L1001.5 760.55L1005.5 770.91L1009.5 763.89L1012.5 812.88L1016.5 747.01L1019.5 744.96L1023.5 743.6L1027.5 738.16L1030.5 745.56L1034.5 752.01L1038.5 761.07L1041.5 707.07L1045.5 708.2L1049.5 716.7L1052.5 703.92L1056.5 709.5L1060.5 714.79L1063.5 712.03L1067.5 710.39L1071.5 708.57L1074.5 701.21L1078.5 770.36L1082.5 778.09L1085.5 768.82L1089.5 779.41L1093.5 790.14L1096.5 793.03L1100.5 802.06L1104.5 796.67L1107.5 797.8L1111.5 764.99L1114.5 770.6L1118.5 779.38L1122.5 778.53L1125.5 785.09L1129.5 781.53L1133.5 777.38L1136.5 763.78L1140.5 763.12L1144.5 753.37L1147.5 740.5L1151.5 736.44L1155.5 720.76L1158.5 736.18L1162.5 755.59L1166.5 757.19L1169.5 722.08L1173.5 740.64L1177.5 732.0L1180.5 713.91L1184.5 715.54L1188.5 718.63" stroke="#7e57c2" stroke-width="2.6"/>
</g>
<g fill="#f1f2f5" shape-rendering="crispEdges">
<rect x="9" y="26" width="1346" height="2"/>
<rect x="9" y="851" width="1346" height="2"/>
<rect x="9" y="26" width="2" height="827"/>
<rect x="1353" y="26" width="2" height="827"/>
</g>
<g fill="#dee0e8" shape-rendering="crispEdges">
<rect x="1288" y="28" width="1" height="823"/>
<rect x="11" y="623" width="1342" height="1"/>
<rect x="11" y="824" width="1342" height="1"/>
</g>
<text x="10" y="19.1" font-family="Liberation Sans, sans-serif" font-size="12.5" fill="#131722" text-anchor="start" font-weight="normal" textLength="362" lengthAdjust="spacingAndGlyphs">ranadagger created with TradingView.com, Mar 25, 2026 15:00 UTC</text>
<text x="18" y="46" font-family="Liberation Sans, sans-serif" font-size="12" fill="#131722" text-anchor="start" font-weight="normal" textLength="206" lengthAdjust="spacingAndGlyphs">Bitcoin Cash / TetherUS · 1D · Binance</text>
<text x="232" y="46" font-family="Liberation Sans, sans-serif" font-size="12" fill="#131722" text-anchor="start" font-weight="normal" textLength="7.4" lengthAdjust="spacingAndGlyphs">O</text>
<text x="240.5" y="46" font-family="Liberation Sans, sans-serif" font-size="12" fill="#ef5350" text-anchor="start" font-weight="normal" textLength="28.5" lengthAdjust="spacingAndGlyphs">477.4</text>
<text x="276.5" y="46" font-family="Liberation Sans, sans-serif" font-size="12" fill="#131722" text-anchor="start" font-weight="normal">H</text>
<text x="285" y="46" font-family="Liberation Sans, sans-serif" font-size="12" fill="#ef5350" text-anchor="start" font-weight="normal" textLength="29" lengthAdjust="spacingAndGlyphs">480.3</text>
<text x="321.5" y="46" font-family="Liberation Sans, sans-serif" font-size="12" fill="#131722" text-anchor="start" font-weight="normal">L</text>
<text x="328.5" y="46" font-family="Liberation Sans, sans-serif" font-size="12" fill="#ef5350" text-anchor="start" font-weight="normal" textLength="28.5" lengthAdjust="spacingAndGlyphs">473.8</text>
<text x="364.5" y="46" font-family="Liberation Sans, sans-serif" font-size="12" fill="#131722" text-anchor="start" font-weight="normal" textLength="6.9" lengthAdjust="spacingAndGlyphs">C</text>
<text x="372" y="46" font-family="Liberation Sans, sans-serif" font-size="12" fill="#ef5350" text-anchor="start" font-weight="normal" textLength="28.5" lengthAdjust="spacingAndGlyphs">475.8</text>
<text x="409" y="46" font-family="Liberation Sans, sans-serif" font-size="12" fill="#ef5350" text-anchor="start" font-weight="normal" textLength="71" lengthAdjust="spacingAndGlyphs">−1.6 (−0.34%)</text>
<text x="18" y="63" font-family="Liberation Sans, sans-serif" font-size="12" fill="#131722" text-anchor="start" font-weight="normal" textLength="82" lengthAdjust="spacingAndGlyphs">EMA (20, close)</text>
<text x="107.5" y="63" font-family="Liberation Sans, sans-serif" font-size="12" fill="#2962ff" text-anchor="start" font-weight="normal" textLength="29.5" lengthAdjust="spacingAndGlyphs">470.4</text>
<text x="18" y="80" font-family="Liberation Sans, sans-serif" font-size="12" fill="#131722" text-anchor="start" font-weight="normal" textLength="81.5" lengthAdjust="spacingAndGlyphs">SMA (50, close)</text>
<text x="107" y="80" font-family="Liberation Sans, sans-serif" font-size="12" fill="#f23645" text-anchor="start" font-weight="normal" textLength="29.5" lengthAdjust="spacingAndGlyphs">492.8</text>
<text x="18" y="643" font-family="Liberation Sans, sans-serif" font-size="12" fill="#131722" text-anchor="start" font-weight="normal" textLength="76" lengthAdjust="spacingAndGlyphs">RSI (14, close)</text>
<text x="103" y="643" font-family="Liberation Sans, sans-serif" font-size="12" fill="#7e57c2" text-anchor="start" font-weight="normal" textLength="29" lengthAdjust="spacingAndGlyphs">50.65</text>
<text x="138.5" y="643" font-family="Liberation Sans, sans-serif" font-size="12" fill="#fdd835" text-anchor="start" font-weight="normal" textLength="28.5" lengthAdjust="spacingAndGlyphs">46.31</text>
<text x="625.4" y="165.8" font-family="Liberation Sans, sans-serif" font-size="23" fill="#009688" text-anchor="start" font-weight="bold" textLength="12" lengthAdjust="spacingAndGlyphs">S</text>
<text x="1056.6" y="168" font-family="Liberation Sans, sans-serif" font-size="23" fill="#009688" text-anchor="start" font-weight="bold" textLength="12" lengthAdjust="spacingAndGlyphs">S</text>
<text x="888.5" y="45.9" font-family="Liberation Sans, sans-serif" font-size="23.3" fill="#009688" text-anchor="start" font-weight="bold" textLength="15.6" lengthAdjust="spacingAndGlyphs">H</text>
<text x="1297" y="615.3" font-family="Liberation Sans, sans-serif" font-size="12" fill="#131722" text-anchor="start" font-weight="normal" textLength="30" lengthAdjust="spacingAndGlyphs">320.0</text>
<text x="1297" y="583.3" font-family="Liberation Sans, sans-serif" font-size="12" fill="#131722" text-anchor="start" font-weight="normal" textLength="30" lengthAdjust="spacingAndGlyphs">340.0</text>
<text x="1297" y="551.3" font-family="Liberation Sans, sans-serif" font-size="12" fill="#131722" text-anchor="start" font-weight="normal" textLength="30" lengthAdjust="spacingAndGlyphs">360.0</text>
<text x="1297" y="519.3" font-family="Liberation Sans, sans-serif" font-size="12" fill="#131722" text-anchor="start" font-weight="normal" textLength="30" lengthAdjust="spacingAndGlyphs">380.0</text>
<text x="1297" y="488.3" font-family="Liberation Sans, sans-serif" font-size="12" fill="#131722" text-anchor="start" font-weight="normal" textLength="30" lengthAdjust="spacingAndGlyphs">400.0</text>
<text x="1297" y="456.3" font-family="Liberation Sans, sans-serif" font-size="12" fill="#131722" text-anchor="start" font-weight="normal" textLength="30" lengthAdjust="spacingAndGlyphs">420.0</text>
<text x="1297" y="424.3" font-family="Liberation Sans, sans-serif" font-size="12" fill="#131722" text-anchor="start" font-weight="normal" textLength="30" lengthAdjust="spacingAndGlyphs">440.0</text>
<text x="1297" y="393.3" font-family="Liberation Sans, sans-serif" font-size="12" fill="#131722" text-anchor="start" font-weight="normal" textLength="30" lengthAdjust="spacingAndGlyphs">460.0</text>
<text x="1297" y="361.3" font-family="Liberation Sans, sans-serif" font-size="12" fill="#131722" text-anchor="start" font-weight="normal" textLength="30" lengthAdjust="spacingAndGlyphs">480.0</text>
<text x="1297" y="329.3" font-family="Liberation Sans, sans-serif" font-size="12" fill="#131722" text-anchor="start" font-weight="normal" textLength="30" lengthAdjust="spacingAndGlyphs">500.0</text>
<text x="1297" y="298.3" font-family="Liberation Sans, sans-serif" font-size="12" fill="#131722" text-anchor="start" font-weight="normal" textLength="30" lengthAdjust="spacingAndGlyphs">520.0</text>
<text x="1297" y="266.3" font-family="Liberation Sans, sans-serif" font-size="12" fill="#131722" text-anchor="start" font-weight="normal" textLength="30" lengthAdjust="spacingAndGlyphs">540.0</text>
<text x="1297" y="234.3" font-family="Liberation Sans, sans-serif" font-size="12" fill="#131722" text-anchor="start" font-weight="normal" textLength="30" lengthAdjust="spacingAndGlyphs">560.0</text>
<text x="1297" y="203.3" font-family="Liberation Sans, sans-serif" font-size="12" fill="#131722" text-anchor="start" font-weight="normal" textLength="30" lengthAdjust="spacingAndGlyphs">580.0</text>
<text x="1297" y="171.3" font-family="Liberation Sans, sans-serif" font-size="12" fill="#131722" text-anchor="start" font-weight="normal" textLength="30" lengthAdjust="spacingAndGlyphs">600.0</text>
<text x="1297" y="139.3" font-family="Liberation Sans, sans-serif" font-size="12" fill="#131722" text-anchor="start" font-weight="normal" textLength="30" lengthAdjust="spacingAndGlyphs">620.0</text>
<text x="1297" y="108.3" font-family="Liberation Sans, sans-serif" font-size="12" fill="#131722" text-anchor="start" font-weight="normal" textLength="30" lengthAdjust="spacingAndGlyphs">640.0</text>
<text x="1297" y="76.3" font-family="Liberation Sans, sans-serif" font-size="12" fill="#131722" text-anchor="start" font-weight="normal" textLength="30" lengthAdjust="spacingAndGlyphs">660.0</text>
<text x="1297" y="642.8" font-family="Liberation Sans, sans-serif" font-size="12" fill="#131722" text-anchor="start" font-weight="normal" textLength="30" lengthAdjust="spacingAndGlyphs">70.00</text>
<text x="1297" y="683.8" font-family="Liberation Sans, sans-serif" font-size="12" fill="#131722" text-anchor="start" font-weight="normal" textLength="30" lengthAdjust="spacingAndGlyphs">60.00</text>
<text x="1297" y="765.8" font-family="Liberation Sans, sans-serif" font-size="12" fill="#131722" text-anchor="start" font-weight="normal" textLength="30" lengthAdjust="spacingAndGlyphs">40.00</text>
<text x="1297" y="806.8" font-family="Liberation Sans, sans-serif" font-size="12" fill="#131722" text-anchor="start" font-weight="normal" textLength="30" lengthAdjust="spacingAndGlyphs">30.00</text>
<text x="103.5" y="842" font-family="Liberation Sans, sans-serif" font-size="12" fill="#131722" text-anchor="middle" font-weight="normal">Jun</text>
<text x="212.5" y="842" font-family="Liberation Sans, sans-serif" font-size="12" fill="#131722" text-anchor="middle" font-weight="normal">Jul</text>
<text x="325.5" y="842" font-family="Liberation Sans, sans-serif" font-size="12" fill="#131722" text-anchor="middle" font-weight="normal">Aug</text>
<text x="439.5" y="842" font-family="Liberation Sans, sans-serif" font-size="12" fill="#131722" text-anchor="middle" font-weight="normal">Sep</text>
<text x="548.5" y="842" font-family="Liberation Sans, sans-serif" font-size="12" fill="#131722" text-anchor="middle" font-weight="normal">Oct</text>
<text x="661.5" y="842" font-family="Liberation Sans, sans-serif" font-size="12" fill="#131722" text-anchor="middle" font-weight="normal">Nov</text>
<text x="771.5" y="842" font-family="Liberation Sans, sans-serif" font-size="12" fill="#131722" text-anchor="middle" font-weight="normal">Dec</text>
<text x="884.5" y="842" font-family="Liberation Sans, sans-serif" font-size="12" fill="#131722" text-anchor="middle" font-weight="bold">2026</text>
<text x="998.5" y="842" font-family="Liberation Sans, sans-serif" font-size="12" fill="#131722" text-anchor="middle" font-weight="normal">Feb</text>
<text x="1100.5" y="842" font-family="Liberation Sans, sans-serif" font-size="12" fill="#131722" text-anchor="middle" font-weight="normal">Mar</text>
<text x="1213.5" y="842" font-family="Liberation Sans, sans-serif" font-size="12" fill="#131722" text-anchor="middle" font-weight="normal">Apr</text>
<rect x="1291.5" y="30.5" width="59" height="27" rx="4" fill="#fff" stroke="#eceef2" stroke-width="1.5"/>
<text x="1301.4" y="49" font-family="Liberation Sans, sans-serif" font-size="12" fill="#131722" text-anchor="start" font-weight="normal" textLength="26.5" lengthAdjust="spacingAndGlyphs">USDT</text>
<rect x="1289" y="61" width="43" height="4" fill="#0000ff"/>
<rect x="1289" y="110" width="43" height="17" rx="2" fill="#0000ff"/><text x="1297" y="122.8" font-family="Liberation Sans, sans-serif" font-size="12" fill="#fff" text-anchor="start" font-weight="bold" textLength="30" lengthAdjust="spacingAndGlyphs">631.0</text>
<rect x="1238" y="329" width="50" height="17" rx="2" fill="#f23645"/><text x="1242.5" y="341.8" font-family="Liberation Sans, sans-serif" font-size="12" fill="#fff" text-anchor="start" font-weight="bold" textLength="41" lengthAdjust="spacingAndGlyphs">SMA:MA</text>
<rect x="1289" y="329" width="43" height="17" rx="2" fill="#f23645"/><text x="1297" y="341.8" font-family="Liberation Sans, sans-serif" font-size="12" fill="#fff" text-anchor="start" font-weight="bold" textLength="30" lengthAdjust="spacingAndGlyphs">492.8</text>
<rect x="1230" y="356" width="58" height="17" rx="2" fill="#ef5350"/><text x="1234.5" y="368.8" font-family="Liberation Sans, sans-serif" font-size="12" fill="#fff" text-anchor="start" font-weight="bold" textLength="48" lengthAdjust="spacingAndGlyphs">BCHUSDT</text>
<rect x="1289" y="356" width="60" height="45" rx="2" fill="#ef5350"/>
<text x="1297" y="369" font-family="Liberation Sans, sans-serif" font-size="12" fill="#fff" text-anchor="start" font-weight="bold" textLength="30" lengthAdjust="spacingAndGlyphs">475.8</text>
<text x="1297" y="383" font-family="Liberation Sans, sans-serif" font-size="12" fill="#fff" text-anchor="start" font-weight="bold" textLength="43" lengthAdjust="spacingAndGlyphs">+26.98%</text>
<text x="1297" y="397" font-family="Liberation Sans, sans-serif" font-size="12" fill="#fbd5d4" text-anchor="start" font-weight="bold" textLength="46" lengthAdjust="spacingAndGlyphs">08:59:02</text>
<rect x="1257" y="401" width="31" height="17" rx="2" fill="#2962ff"/><text x="1262" y="413.8" font-family="Liberation Sans, sans-serif" font-size="12" fill="#fff" text-anchor="start" font-weight="bold" textLength="22" lengthAdjust="spacingAndGlyphs">EMA</text>
<rect x="1289" y="401" width="43" height="17" rx="2" fill="#2962ff"/><text x="1297" y="413.8" font-family="Liberation Sans, sans-serif" font-size="12" fill="#fff" text-anchor="start" font-weight="bold" textLength="30" lengthAdjust="spacingAndGlyphs">470.4</text>
<rect x="1289" y="418" width="43" height="17" rx="2" fill="#0000ff"/><text x="1297" y="430.8" font-family="Liberation Sans, sans-serif" font-size="12" fill="#fff" text-anchor="start" font-weight="bold" textLength="30" lengthAdjust="spacingAndGlyphs">443.0</text>
<rect x="1263" y="710" width="25" height="17" rx="2" fill="#7e57c2"/><text x="1268" y="722.8" font-family="Liberation Sans, sans-serif" font-size="12" fill="#fff" text-anchor="start" font-weight="bold" textLength="15.5" lengthAdjust="spacingAndGlyphs">RSI</text>
<rect x="1289" y="710" width="43" height="17" rx="2" fill="#7e57c2"/><text x="1297" y="722.8" font-family="Liberation Sans, sans-serif" font-size="12" fill="#fff" text-anchor="start" font-weight="bold" textLength="30" lengthAdjust="spacingAndGlyphs">50.65</text>
<rect x="1209" y="728" width="79" height="16.5" rx="2" fill="#fdd835"/><text x="1213.5" y="740.55" font-family="Liberation Sans, sans-serif" font-size="12" fill="#131722" text-anchor="start" font-weight="normal" textLength="70" lengthAdjust="spacingAndGlyphs">RSI-based MA</text>
<rect x="1289" y="728" width="43" height="16.5" rx="2" fill="#fdd835"/><text x="1297" y="740.55" font-family="Liberation Sans, sans-serif" font-size="12" fill="#131722" text-anchor="start" font-weight="normal" textLength="29" lengthAdjust="spacingAndGlyphs">46.31</text>
<g><rect x="1177" y="598" width="23.2" height="24" fill="#fff"/><path d="M1197.82 607.4A9.7 9.7 0 1 1 1191.6 601.18" fill="none" stroke="#9c27b0" stroke-width="1.7" stroke-linecap="butt"/><path d="M1191.2 604.8L1184.2 610.6L1188.0 610.9L1185.0 616.0L1192.8 610.1L1189.0 609.9Z" fill="#9c27b0"/><circle cx="1195.3" cy="603.6" r="2.6" fill="#f23645"/></g>
<g fill="#131722"><path d="M12.1 874.1h11.7v14.5h-5.7v-8.8h-6z"/><circle cx="29.3" cy="877" r="2.9"/><path d="M34.7 874.1h7.1l-5.9 14.5h-6.9z"/></g>
<text x="49.3" y="888.6" font-family="Liberation Sans, sans-serif" font-size="20" fill="#131722" text-anchor="start" font-weight="bold" textLength="120.3" lengthAdjust="spacingAndGlyphs">TradingView</text>
</svg></body></html>
